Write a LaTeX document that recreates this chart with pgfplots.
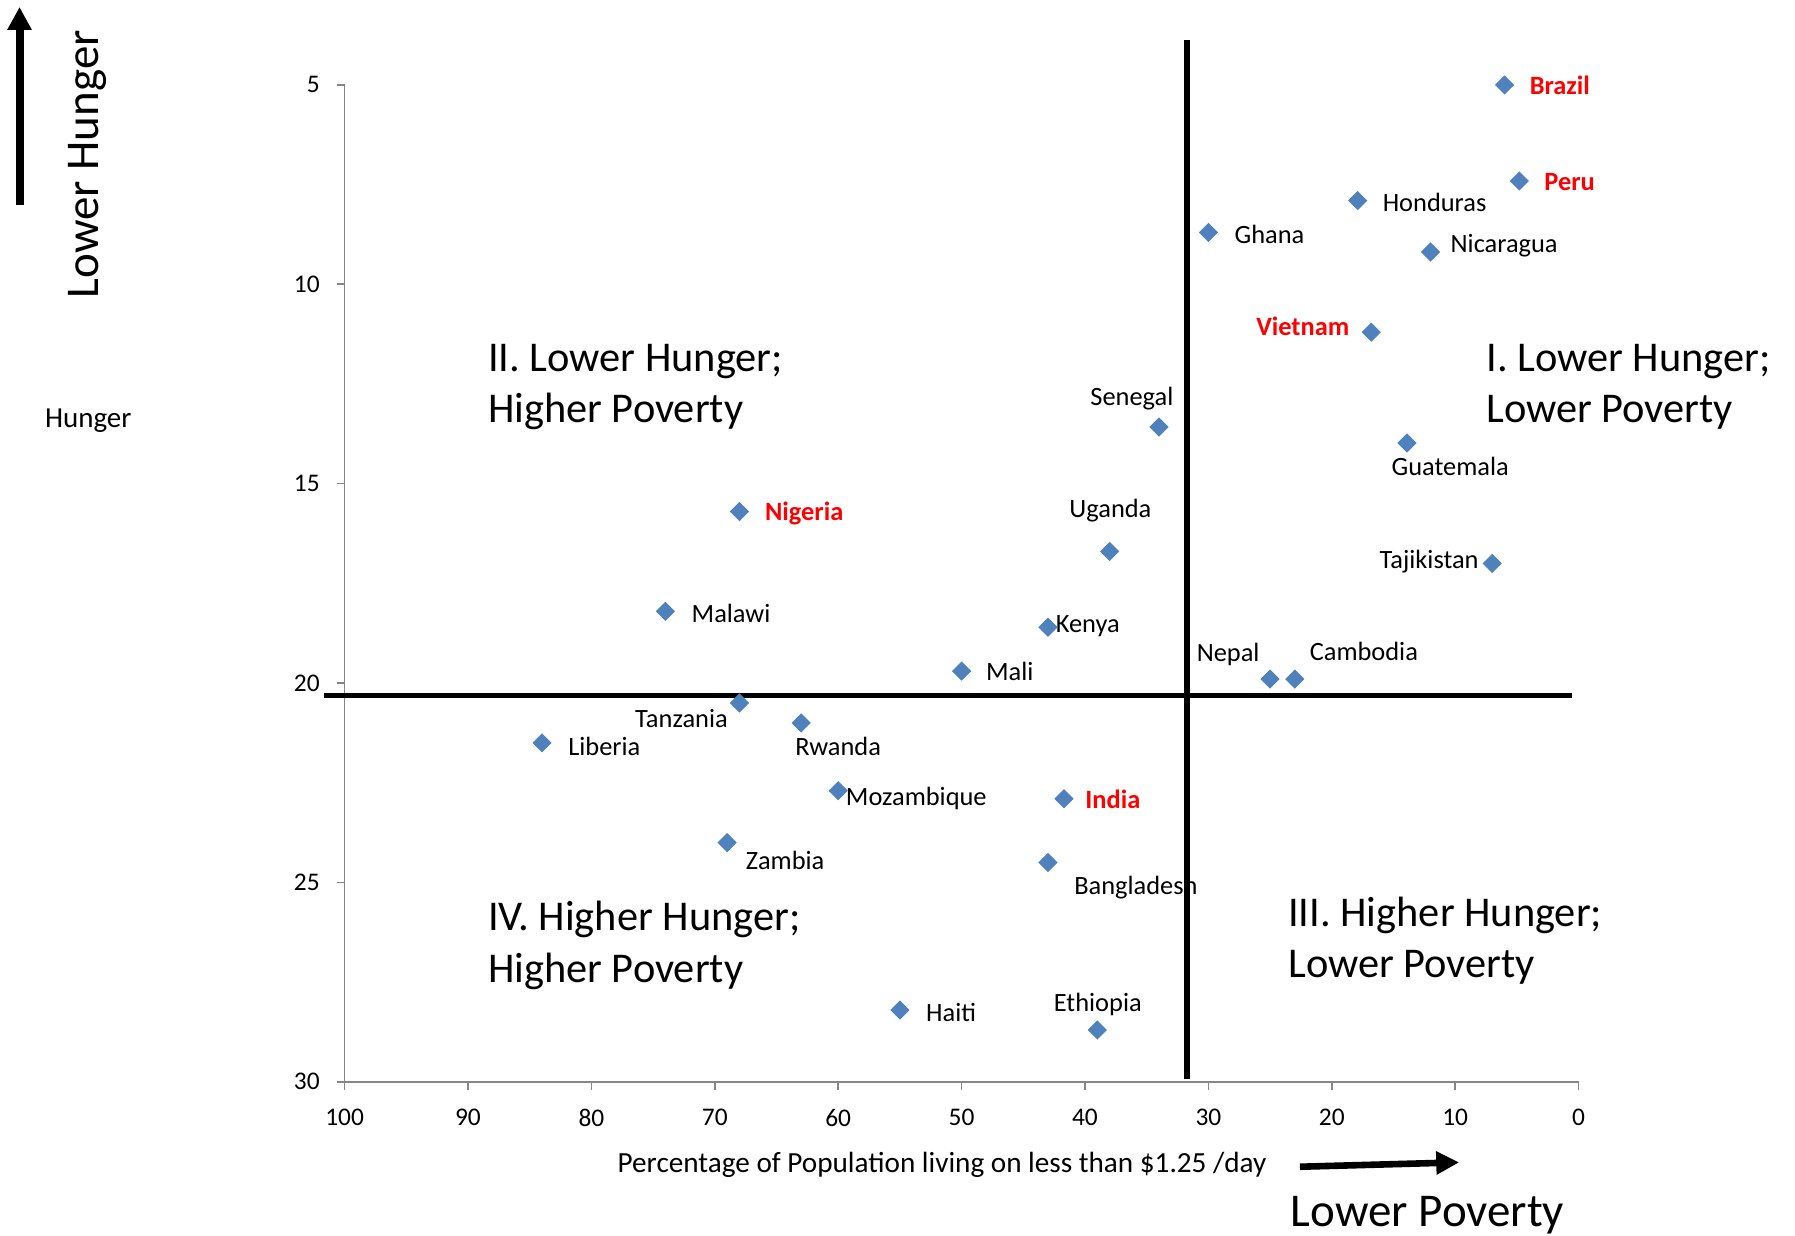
\documentclass[border=0pt]{standalone}
\usepackage{fontspec}
\setmainfont{Carlito}
\usepackage{pgfplots}
\pgfplotsset{compat=1.18}
\usetikzlibrary{arrows.meta}
\definecolor{mk}{HTML}{4F81BD}
\definecolor{ax}{HTML}{868686}
\definecolor{rd}{HTML}{FF0000}
\newcommand{\lf}{\fontsize{13.2bp}{16bp}\selectfont}
\newcommand{\qf}{\fontsize{21.2bp}{25.6bp}\selectfont}
\newcommand{\bigf}{\fontsize{23.5bp}{28bp}\selectfont}
\tikzset{
 lab/.style={font=\lf, inner sep=0pt, yshift=-0.35bp},
 rlab/.style={font=\lf\bfseries, text=rd, inner sep=0pt, yshift=-0.35bp},
 qlab/.style={font=\qf, inner sep=0pt, align=left, anchor=west},
}
\begin{document}
\begin{tikzpicture}
\useasboundingbox (-172.3bp,-77.1bp) rectangle (725.2bp,540.9bp);
\begin{axis}[
 scale only axis, width=617bp, height=498.45bp,
 xmin=0, xmax=100, ymin=5, ymax=30, x dir=reverse, y dir=reverse,
 axis x line=bottom, axis y line=left,
 axis line style={ax, line width=0.8pt, -},
 xtick={0,10,...,100}, ytick={5,10,...,30},
 tick style={ax, line width=0.8pt}, tick align=outside, major tick length=4bp,
 ticklabel style={font=\fontsize{12.7bp}{15bp}\selectfont, text=black},
 xticklabel style={yshift=-6.1bp},
 yticklabel style={xshift=-4.9bp},
 /pgf/number format/assume math mode=true,
 clip=false,
]
\addplot[only marks, mark=square*, mark size=3.2pt, mark options={rotate=45, fill=mk, draw=mk}] coordinates {
 (6,5.0) (4.8,7.41) (17.9,7.9) (30,8.7) (12,9.19) (16.8,11.2) (34,13.58) (13.9,13.98)
 (68,15.7) (38,16.7) (7,17.0) (74,18.2) (43,18.6) (50,19.7) (25,19.9) (23,19.9)
 (68,20.5) (63,21.0) (84,21.5) (60,22.7) (41.7,22.9) (69,24.0) (43,24.5) (55,28.2) (39,28.7)
};
\draw[line width=2.8bp] (axis cs:101.67,20.31) -- (axis cs:0.56,20.31);
\draw[line width=2.8bp] (axis cs:31.72,3.88) -- (axis cs:31.72,29.92);

\node[rlab, anchor=west] at (axis cs:3.99,5.0) {Brazil};
\node[rlab, anchor=west] at (axis cs:2.8,7.41) {Peru};
\node[lab, anchor=west] at (axis cs:15.9,7.93) {Honduras};
\node[lab, anchor=west] at (axis cs:27.9,8.73) {Ghana};
\node[lab, anchor=west] at (axis cs:10.4,9.02) {Nicaragua};
\node[rlab, anchor=east] at (axis cs:18.55,11.03) {Vietnam};
\node[lab] at (axis cs:36.2,12.84) {Senegal};
\node[lab] at (axis cs:10.4,14.56) {Guatemala};
\node[rlab, anchor=west] at (axis cs:65.96,15.73) {Nigeria};
\node[lab] at (axis cs:37.94,15.65) {Uganda};
\node[lab, anchor=east] at (axis cs:8.07,16.94) {Tajikistan};
\node[lab, anchor=west] at (axis cs:71.9,18.23) {Malawi};
\node[lab, anchor=west] at (axis cs:42.4,18.55) {Kenya};
\node[lab, anchor=west] at (axis cs:48.05,19.7) {Mali};
\node[lab] at (axis cs:28.4,19.27) {Nepal};
\node[lab] at (axis cs:17.4,19.18) {Cambodia};
\node[lab] at (axis cs:72.7,20.87) {Tanzania};
\node[lab, anchor=west] at (axis cs:81.9,21.56) {Liberia};
\node[lab] at (axis cs:60.0,21.57) {Rwanda};
\node[lab, anchor=west] at (axis cs:59.4,22.88) {Mozambique};
\node[rlab, anchor=west] at (axis cs:40.0,22.91) {India};
\node[lab] at (axis cs:64.3,24.43) {Zambia};
\node[lab, anchor=west] at (axis cs:40.9,25.12) {Bangladesh};
\node[lab, anchor=west] at (axis cs:52.9,28.25) {Haiti};
\node[lab] at (axis cs:38.96,28.05) {Ethiopia};

\node[qlab] at (axis cs:88.4,12.58) {II. Lower Hunger;\\Higher Poverty};
\node[qlab] at (axis cs:7.51,12.58) {I. Lower Hunger;\\Lower Poverty};
\node[qlab] at (axis cs:88.4,26.58) {IV. Higher Hunger;\\Higher Poverty};
\node[qlab] at (axis cs:23.56,26.47) {III. Higher Hunger;\\Lower Poverty};

\node[font=\fontsize{14.6bp}{17bp}\selectfont, anchor=base, inner sep=0pt] at (axis cs:51.58,32.27) {Percentage of Population living on less than \$1.25 /day};
\node[font=\bigf, anchor=base, inner sep=0pt] at (axis cs:12.25,33.64) {Lower Poverty};
\node[font=\bigf, anchor=base, inner sep=0pt, rotate=90] at (axis cs:119.96,6.99) {Lower Hunger};
\node[font=\fontsize{14.5bp}{17bp}\selectfont, anchor=base, inner sep=0pt] at (axis cs:120.77,13.60) {Hunger};

\draw[line width=4bp, -{Triangle[length=11.5bp,width=11.5bp]}] (axis cs:126.34,8.02) -- (axis cs:126.34,3.044);
\draw[line width=3.3bp, -{Triangle[length=11.5bp,width=11bp]}] (axis cs:22.58,32.13) -- (axis cs:9.67,32.02);
\end{axis}
\end{tikzpicture}
\end{document}
